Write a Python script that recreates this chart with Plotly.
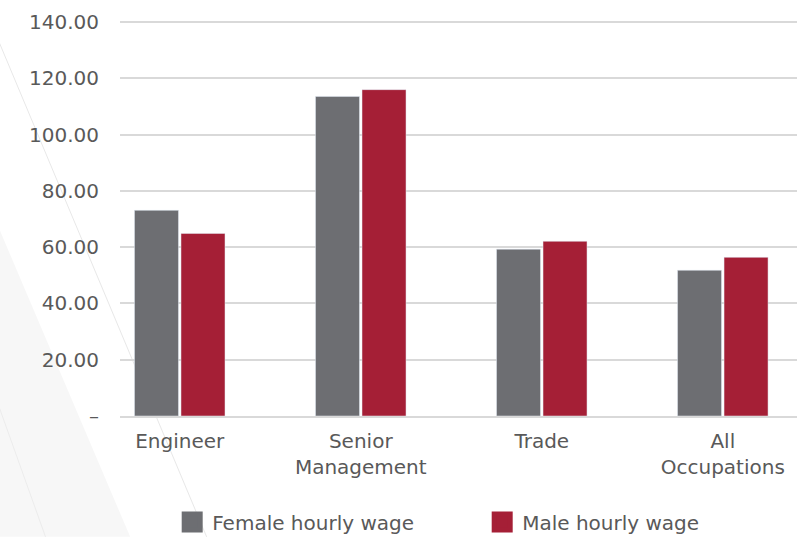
import plotly.graph_objects as go

categories = ["Engineer", "Senior<br>Management", "Trade", "All<br>Occupations"]
female_wage = [73.1, 113.6, 59.3, 51.8]
male_wage = [64.9, 116.0, 62.1, 56.4]
y_tickvals = [0, 20, 40, 60, 80, 100, 120, 140]
y_ticktext = ["–", "20.00", "40.00", "60.00", "80.00", "100.00", "120.00", "140.00"]

COLOR_FEMALE = "#6d6e72"
COLOR_MALE = "#a51f36"
COLOR_TEXT = "#595959"
COLOR_GRID = "#d9d9d9"
FONT = "DejaVu Sans, sans-serif"

fig = go.Figure()

fig.add_trace(go.Bar(x=categories, y=female_wage, name="Female hourly wage",
                     marker_color=COLOR_FEMALE, showlegend=False))
fig.add_trace(go.Bar(x=categories, y=male_wage, name="Male hourly wage",
                     marker_color=COLOR_MALE, showlegend=False))

# legend-only entries, so the swatches can be drawn bigger than the bar default
for name, col in [("Female hourly wage", COLOR_FEMALE), ("Male hourly wage", COLOR_MALE)]:
    fig.add_trace(go.Scatter(x=[None], y=[None], mode="markers", name=name,
                             marker=dict(symbol="square", size=16, color=col,
                                         line=dict(color=col, width=5))))

# faint diagonal decoration in the background (left side)
fig.add_shape(type="path", xref="paper", yref="paper",
              path="M -0.178 0.472 L 0.015 -0.306 L -0.178 -0.306 Z",
              fillcolor="#f7f7f7", line_width=0, layer="below")
fig.add_shape(type="line", xref="paper", yref="paper",
              x0=-0.178, y0=0.944, x1=0.128, y1=-0.306,
              line=dict(color="#e8e8e8", width=1), layer="below")
fig.add_shape(type="line", xref="paper", yref="paper",
              x0=-0.178, y0=0.02, x1=-0.11, y1=-0.306,
              line=dict(color="#ececec", width=1), layer="below")

fig.update_layout(
    width=806, height=537,
    margin=dict(l=120, r=9, t=21, b=121, autoexpand=False),
    paper_bgcolor="white", plot_bgcolor="rgba(0,0,0,0)",
    barmode="group", bargap=0.486, bargroupgap=0.054,
    font=dict(family=FONT, size=20, color=COLOR_TEXT),
    xaxis=dict(range=[-0.33, 3.41], showgrid=False, showline=True,
               linecolor=COLOR_GRID, linewidth=2, ticks="",
               ticklabelstandoff=6, tickfont=dict(size=20, color=COLOR_TEXT)),
    yaxis=dict(range=[0, 140.4], tickvals=y_tickvals, ticktext=y_ticktext,
               showgrid=True, gridcolor=COLOR_GRID, gridwidth=2,
               zeroline=False, showline=False, ticks="",
               ticklabelstandoff=20, tickfont=dict(size=20, color=COLOR_TEXT)),
    legend=dict(orientation="h", x=0.535, xanchor="center",
                yref="container", y=0.028, yanchor="middle",
                font=dict(size=20, color=COLOR_TEXT), entrywidth=265,
                bgcolor="rgba(0,0,0,0)"),
)

# drop the page's default body margin so the figure sits at the window's corner
fig.write_html("out.html", config={"displayModeBar": False},
               post_script="document.body.style.margin='0';")
